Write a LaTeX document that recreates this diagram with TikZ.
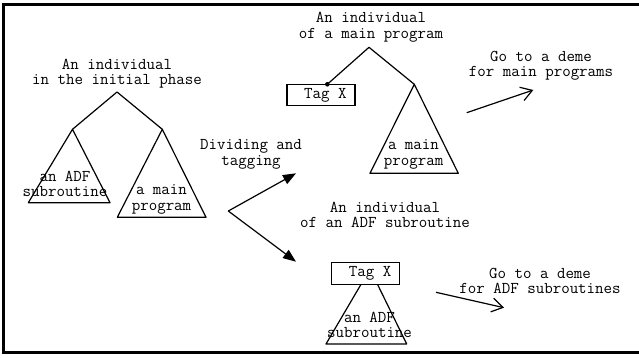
\documentclass[tikz,border=0pt]{standalone}
\usepackage{fontspec}
\usetikzlibrary{arrows.meta}
\begin{document}
\begin{tikzpicture}[x=1pt,y=-1pt,
  lbl/.style={font=\ttfamily\fontsize{16.5}{15.5}\selectfont, align=center, inner sep=0pt},
  edge/.style={line width=1.2pt, line join=round},
  tagbox/.style={draw, line width=1.2pt, fill=white, minimum width=68pt, minimum height=21.5pt, inner sep=0pt, font=\ttfamily\fontsize{16.5}{15.5}\selectfont},
  fatarrow/.style={line width=1.2pt, -{Triangle[length=13pt,width=10pt]}},
  openarrow/.style={line width=1.2pt, -{Straight Barb[length=11pt,width=14pt]}},
]
\useasboundingbox (0,0) rectangle (639,358);
\draw[line width=3.3pt] (642,4.3) -- (3.5,4.3) -- (3.5,352.3) -- (642,352.3);

% left tree
\node[lbl] (initlbl) at (117,73.5) {An individual\\in the initial phase};
\coordinate (r0) at (117,92);
\coordinate (l0) at (72.5,129.3);
\coordinate (m0) at (162.3,129.3);
\draw[edge] (l0) -- (r0) -- (m0);
\draw[edge] (l0) -- (28.3,202.7) -- (110,202.7) -- cycle;
\draw[edge] (m0) -- (117.3,217.3) -- (206,217.3) -- cycle;
\node[lbl] (adf0) at (65,184) {an ADF\\subroutine};
\node[lbl] (main0) at (161.5,199.5) {a main\\program};

% dividing
\node[lbl] (divlbl) at (251,154.5) {Dividing and\\tagging};
\coordinate (fork) at (228.3,211);
\coordinate (up) at (296,173.3);
\coordinate (dn) at (296,261.7);
\draw[fatarrow] (fork) -- (up);
\draw[fatarrow] (fork) -- (dn);

% main program individual
\node[lbl] (mainlbl) at (371,27) {An individual\\of a main program};
\coordinate (r1) at (369,47.3);
\node[tagbox] (tag1) at (321,95) {\hspace*{8.6pt}Tag X};
\coordinate (dot1) at (327.3,84.3);
\coordinate (m1) at (414.3,84.3);
\draw[edge] (dot1) -- (r1) -- (m1);
\fill (dot1) circle (2.3pt);
\draw[edge] (m1) -- (370,173.3) -- (458.3,173.3) -- cycle;
\node[lbl] (main1) at (413.5,154.5) {a main\\program};
\node[lbl] (golbl1) at (541,66) {Go to a deme\\for main programs};
\coordinate (g1s) at (466.7,112.7);
\coordinate (g1e) at (533.3,90);
\draw[openarrow] (g1s) -- (g1e);

% ADF individual
\node[lbl] (adflbl) at (385,214.7) {An individual\\of an ADF subroutine};
\coordinate (r2) at (370,269);
\draw[edge] (r2) -- (326,344) -- (406.7,344) -- cycle;
\node[tagbox] (tag2) at (365.8,273.5) {\hspace*{8.6pt}Tag X};
\node[lbl] (adf2) at (369.5,325) {an ADF\\subroutine};
\node[lbl] (golbl2) at (540,280.8) {Go to a deme\\for ADF subroutines};
\coordinate (g2s) at (436,292.3);
\coordinate (g2e) at (504,307.7);
\draw[openarrow] (g2s) -- (g2e);
\end{tikzpicture}
\end{document}
